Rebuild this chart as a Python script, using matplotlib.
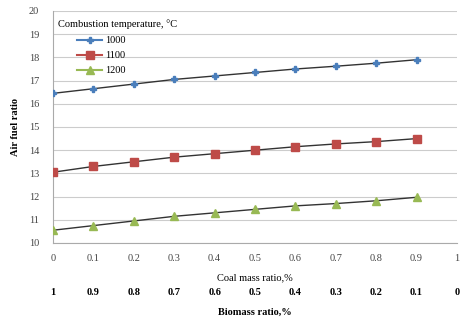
import matplotlib
matplotlib.use("Agg")
import matplotlib.pyplot as plt
import numpy as np

coal_ratio = [0, 0.1, 0.2, 0.3, 0.4, 0.5, 0.6, 0.7, 0.8, 0.9]
afr_1000 = [16.45, 16.65, 16.85, 17.05, 17.2, 17.35, 17.5, 17.62, 17.75, 17.9]
afr_1100 = [13.05, 13.3, 13.5, 13.7, 13.85, 14.0, 14.15, 14.27, 14.37, 14.5]
afr_1200 = [10.55, 10.75, 10.95, 11.15, 11.3, 11.45, 11.6, 11.7, 11.82, 11.97]
x_ticks = [0, 0.1, 0.2, 0.3, 0.4, 0.5, 0.6, 0.7, 0.8, 0.9, 1]
biomass_labels = ["1", "0.9", "0.8", "0.7", "0.6", "0.5", "0.4", "0.3", "0.2", "0.1", "0"]

plt.rcParams["font.family"] = ["Liberation Serif", "DejaVu Serif"]

fig = plt.figure(figsize=(4.62, 3.22), dpi=100)
ax = fig.add_axes([53 / 462, 1 - 243 / 322, 404 / 462, 232 / 322])

series = [
    ("1000", afr_1000, "#4a7ebb", "P", 5),
    ("1100", afr_1100, "#be4b48", "s", 5.5),
    ("1200", afr_1200, "#98b954", "^", 5.5),
]
for label, vals, color, marker, ms in series:
    ax.plot(coal_ratio, vals, color="#333333", lw=1.0, zorder=2)
    ax.plot(coal_ratio, vals, color=color, lw=0, marker=marker, ms=ms, zorder=3)
    ax.plot([], [], color=color, marker=marker, ms=ms, lw=1.5, label=label)

ax.set_xlim(0, 1)
ax.set_ylim(10, 20)
ax.set_xticks(x_ticks)
ax.set_xticklabels([f"{t:g}" for t in x_ticks], fontsize=7.5, color="#444444")
ax.set_yticks(range(10, 21))
ax.tick_params(axis="y", labelsize=7.5, colors="#444444", length=0, pad=10)
ax.tick_params(axis="x", length=0, pad=8)
ax.grid(axis="y", color="#cccccc", lw=0.8)
ax.set_axisbelow(True)
for s in ["top", "right"]:
    ax.spines[s].set_visible(False)
ax.spines["left"].set_color("#aaaaaa")
ax.spines["bottom"].set_color("#aaaaaa")

ax.set_ylabel("Air fuel ratio", fontsize=7.5, fontweight="bold", labelpad=6)
ax.set_xlabel("Coal mass ratio,%", fontsize=7.5, labelpad=7)

for t, lab in zip(x_ticks, biomass_labels):
    ax.text(t, -0.215, lab, transform=ax.get_xaxis_transform(), ha="center", va="center",
            fontsize=7.5, fontweight="bold")
ax.text(0.5, -0.3, "Biomass ratio,%", transform=ax.transAxes, ha="center", va="center",
        fontsize=7.5, fontweight="bold")

ax.text(0.012, 0.945, "Combustion temperature, \u00b0C", transform=ax.transAxes,
        fontsize=7.5, va="center")
ax.legend(loc="upper left", bbox_to_anchor=(0.05, 0.91), frameon=False, fontsize=7.5,
          handlelength=2.4, handletextpad=0.3, labelspacing=0.55, borderaxespad=0)

fig.savefig("out.png", dpi=100)
